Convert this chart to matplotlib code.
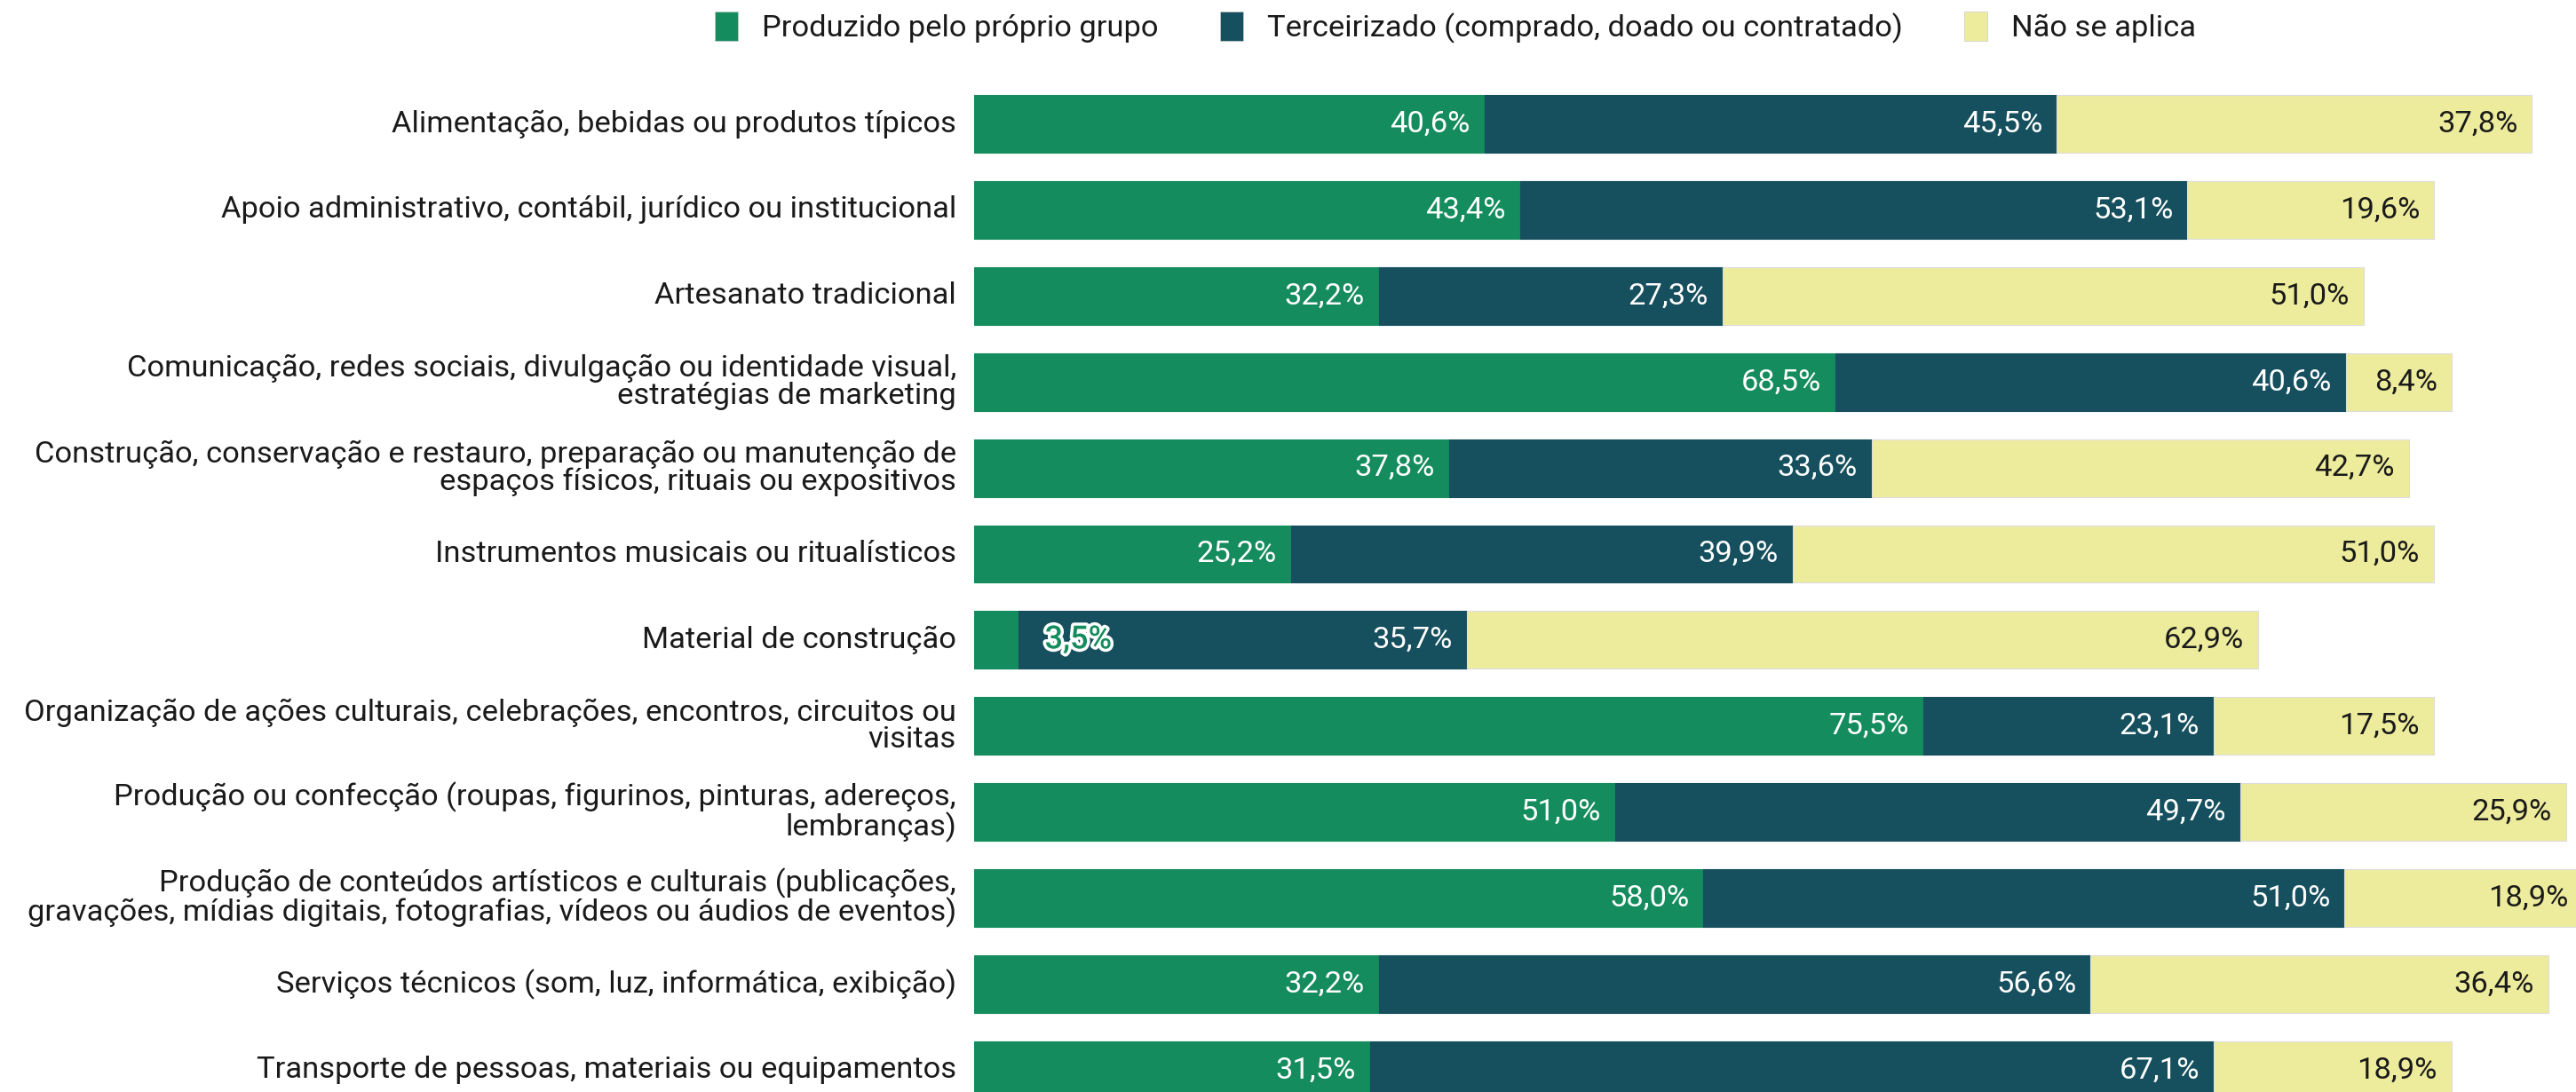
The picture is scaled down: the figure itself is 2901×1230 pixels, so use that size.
import matplotlib
matplotlib.use("Agg")
import matplotlib.pyplot as plt
import matplotlib.patheffects as pe
from matplotlib.patches import Patch

plt.rcParams['font.family'] = ['Roboto', 'DejaVu Sans']

categories = [
    "Alimentação, bebidas ou produtos típicos",
    "Apoio administrativo, contábil, jurídico ou institucional",
    "Artesanato tradicional",
    "Comunicação, redes sociais, divulgação ou identidade visual,\nestratégias de marketing",
    "Construção, conservação e restauro, preparação ou manutenção de\nespaços físicos, rituais ou expositivos",
    "Instrumentos musicais ou ritualísticos",
    "Material de construção",
    "Organização de ações culturais, celebrações, encontros, circuitos ou\nvisitas",
    "Produção ou confecção (roupas, figurinos, pinturas, adereços,\nlembranças)",
    "Produção de conteúdos artísticos e culturais (publicações,\ngravações, mídias digitais, fotografias, vídeos ou áudios de eventos)",
    "Serviços técnicos (som, luz, informática, exibição)",
    "Transporte de pessoas, materiais ou equipamentos",
]
series_names = ["Produzido pelo próprio grupo",
                "Terceirizado (comprado, doado ou contratado)",
                "Não se aplica"]
proprio = [40.6, 43.4, 32.2, 68.5, 37.8, 25.2, 3.5, 75.5, 51.0, 58.0, 32.2, 31.5]
terceirizado = [45.5, 53.1, 27.3, 40.6, 33.6, 39.9, 35.7, 23.1, 49.7, 51.0, 56.6, 67.1]
nao_aplica = [37.8, 19.6, 51.0, 8.4, 42.7, 51.0, 62.9, 17.5, 25.9, 18.9, 36.4, 18.9]

colors = ["#148C5E", "#164F5D", "#EDEC9D"]
text_colors = ["white", "white", "#1a1a1a"]

W, H = 2901, 1230
fig = plt.figure(figsize=(W / 100, H / 100), dpi=100)
left_px = 1097
ax = fig.add_axes([left_px / W, 0, 1 - left_px / W, 1])

px_per_pct = 14.16
ax.set_xlim(0, (W - left_px) / px_per_pct)
row_px = 96.9
y0_px = 139.5
ax.set_ylim(11 + (H - (y0_px + 11 * row_px)) / row_px, -y0_px / row_px)

FS = 24.8
y = list(range(len(categories)))
left = [0.0] * len(categories)
pad = 16 / px_per_pct
for vals, col, tcol in zip([proprio, terceirizado, nao_aplica], colors, text_colors):
    ax.barh(y, vals, left=left, height=0.67, color=col,
            edgecolor="#dcdcdc" if col == colors[2] else col, linewidth=0.8)
    for i, v in enumerate(vals):
        end = left[i] + v
        txt = f"{v:.1f}%".replace(".", ",")
        if v < 6:
            ax.text(end + 30 / px_per_pct, i, txt, ha="left", va="center", fontsize=26,
                    color=col, fontweight="medium",
                    path_effects=[pe.withStroke(linewidth=5, foreground="white")])
        else:
            ax.text(end - pad, i, txt, ha="right", va="center", fontsize=FS, color=tcol)
    left = [l + v for l, v in zip(left, vals)]

for i, c in enumerate(categories):
    ax.text(-20 / px_per_pct, i, c, ha="right", va="center", fontsize=FS, color="#1a1a1a",
            linespacing=0.95, clip_on=False)

for s in ax.spines.values():
    s.set_visible(False)
ax.set_xticks([])
ax.set_yticks([])

handles = [Patch(facecolor=c, edgecolor="#cccccc", linewidth=0.5) for c in colors]
fig.legend(handles, series_names, loc="center", bbox_to_anchor=(0.565, 1 - 31 / H), ncol=3,
           frameon=False, fontsize=FS, handlelength=0.75, handleheight=1.1,
           handletextpad=0.8, columnspacing=2.0, labelcolor="#1a1a1a")

fig.savefig("out.png", dpi=100)
